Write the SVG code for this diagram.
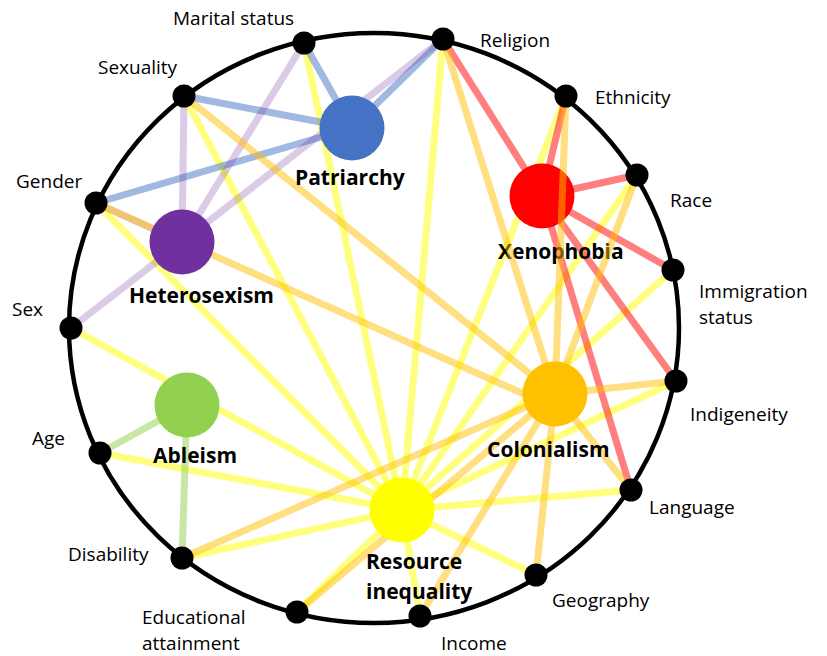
<svg xmlns="http://www.w3.org/2000/svg" width="827" height="656" viewBox="0 0 827 656">
<style>
  .e { fill: none; stroke-width: 7; stroke-linecap: butt; }
  .y { stroke: #FFFF00; stroke-opacity: 0.5; }
  .o { stroke: #FFC000; stroke-opacity: 0.5; }
  .r { stroke: #FF0000; stroke-opacity: 0.5; }
  .b { stroke: #4472C4; stroke-opacity: 0.5; }
  .p { stroke: #7030A0; stroke-opacity: 0.25; }
  .g { stroke: #92D050; stroke-opacity: 0.5; }
  .dot { fill: #000000; }
  .lbl { font-family: "Open Sans", "Liberation Sans", sans-serif; font-size: 19px; fill: #000000; }
  .hub { font-family: "Open Sans", "Liberation Sans", sans-serif; font-size: 21px; font-weight: bold; fill: #000000; }
</style>
<rect width="827" height="656" fill="#FFFFFF"/>
<ellipse id="ring" cx="374" cy="328" rx="305" ry="295" fill="none" stroke="#000000" stroke-width="4.5"/>

<g id="connectors-under">
  <!-- Resource inequality (yellow) -->
  <line class="e y" x1="304" y1="43" x2="402" y2="510"/>
  <line class="e y" x1="184" y1="96" x2="402" y2="510"/>
  <line class="e y" x1="96" y1="203" x2="402" y2="510"/>
  <line class="e y" x1="71" y1="328" x2="402" y2="510"/>
  <line class="e y" x1="100" y1="453" x2="402" y2="510"/>
  <line class="e y" x1="182" y1="558" x2="402" y2="510"/>
  <line class="e y" x1="297" y1="612" x2="402" y2="510"/>
  <line class="e y" x1="420" y1="616" x2="402" y2="510"/>
  <line class="e y" x1="536" y1="575" x2="402" y2="510"/>
  <line class="e y" x1="631" y1="490" x2="402" y2="510"/>
  <line class="e y" x1="676" y1="381" x2="402" y2="510"/>
  <line class="e y" x1="673" y1="270" x2="402" y2="510"/>
  <line class="e y" x1="637" y1="175" x2="402" y2="510"/>
  <line class="e y" x1="566" y1="96" x2="402" y2="510"/>
  <line class="e y" x1="443" y1="39" x2="402" y2="510"/>
  <!-- Patriarchy (blue) -->
  <line class="e b" x1="304" y1="43" x2="352" y2="128"/>
  <line class="e b" x1="184" y1="96" x2="352" y2="128"/>
  <line class="e b" x1="96" y1="203" x2="352" y2="128"/>
  <line class="e b" x1="443" y1="39" x2="352" y2="128"/>
  <!-- Heterosexism (purple) -->
  <line class="e p" x1="304" y1="43" x2="182" y2="242"/>
  <line class="e p" x1="184" y1="96" x2="182" y2="242"/>
  <line class="e p" x1="443" y1="39" x2="182" y2="242"/>
  <line class="e p" x1="96" y1="203" x2="182" y2="242"/>
  <line class="e p" x1="71" y1="328" x2="182" y2="242"/>
  <!-- Ableism (green) -->
  <line class="e g" x1="100" y1="453" x2="187" y2="405"/>
  <line class="e g" x1="182" y1="558" x2="187" y2="405"/>
  <!-- Xenophobia (red) -->
  <line class="e r" x1="443" y1="39" x2="542" y2="196"/>
  <line class="e r" x1="566" y1="96" x2="542" y2="196"/>
  <line class="e r" x1="637" y1="175" x2="542" y2="196"/>
  <line class="e r" x1="673" y1="270" x2="542" y2="196"/>
  <line class="e r" x1="676" y1="381" x2="542" y2="196"/>
  <line class="e r" x1="631" y1="490" x2="542" y2="196"/>
</g>

<g id="node-xenophobia">
  <circle cx="542" cy="196" r="32.5" fill="#FF0000"/>
  <text class="hub" x="498" y="259">Xenophobia</text>
</g>

<g id="connectors-over">
  <!-- Colonialism (orange) -->
  <line class="e o" x1="443" y1="39" x2="555" y2="394"/>
  <line class="e o" x1="566" y1="96" x2="555" y2="394"/>
  <line class="e o" x1="637" y1="175" x2="555" y2="394"/>
  <line class="e o" x1="676" y1="381" x2="555" y2="394"/>
  <line class="e o" x1="631" y1="490" x2="555" y2="394"/>
  <line class="e o" x1="536" y1="575" x2="555" y2="394"/>
  <line class="e o" x1="420" y1="616" x2="555" y2="394"/>
  <line class="e o" x1="297" y1="612" x2="555" y2="394"/>
  <line class="e o" x1="182" y1="558" x2="555" y2="394"/>
  <line class="e o" x1="96" y1="203" x2="553" y2="407"/>
  <line class="e o" x1="184" y1="96" x2="555" y2="394"/>
</g>

<g id="node-patriarchy">
  <circle cx="352" cy="128" r="32.5" fill="#4472C4"/>
  <text class="hub" x="295" y="185">Patriarchy</text>
</g>
<g id="node-heterosexism">
  <circle cx="182" cy="242" r="32.5" fill="#7030A0"/>
  <text class="hub" x="129" y="303">Heterosexism</text>
</g>
<g id="node-ableism">
  <circle cx="187" cy="405" r="32.5" fill="#92D050"/>
  <text class="hub" x="153" y="463">Ableism</text>
</g>
<g id="node-colonialism">
  <circle cx="555" cy="394" r="32.5" fill="#FFC000"/>
  <text class="hub" x="487" y="457">Colonialism</text>
</g>
<g id="node-resource-inequality">
  <circle cx="402" cy="510" r="32.5" fill="#FFFF00"/>
  <text class="hub" x="366" y="569">Resource</text>
  <text class="hub" x="366" y="599">inequality</text>
</g>

<g id="node-marital-status"><circle class="dot" cx="304" cy="43" r="11.5"/><text class="lbl" x="173" y="25">Marital status</text></g>
<g id="node-religion"><circle class="dot" cx="443" cy="39" r="11.5"/><text class="lbl" x="480" y="47">Religion</text></g>
<g id="node-ethnicity"><circle class="dot" cx="566" cy="96" r="11.5"/><text class="lbl" x="595" y="104">Ethnicity</text></g>
<g id="node-race"><circle class="dot" cx="637" cy="175" r="11.5"/><text class="lbl" x="670" y="207">Race</text></g>
<g id="node-immigration-status"><circle class="dot" cx="673" cy="270" r="11.5"/><text class="lbl" x="699" y="298">Immigration</text><text class="lbl" x="699" y="324">status</text></g>
<g id="node-indigeneity"><circle class="dot" cx="676" cy="381" r="11.5"/><text class="lbl" x="690" y="421">Indigeneity</text></g>
<g id="node-language"><circle class="dot" cx="631" cy="490" r="11.5"/><text class="lbl" x="649" y="514">Language</text></g>
<g id="node-geography"><circle class="dot" cx="536" cy="575" r="11.5"/><text class="lbl" x="552" y="607">Geography</text></g>
<g id="node-income"><circle class="dot" cx="420" cy="616" r="11.5"/><text class="lbl" x="441" y="650">Income</text></g>
<g id="node-educational-attainment"><circle class="dot" cx="297" cy="612" r="11.5"/><text class="lbl" x="142" y="624">Educational</text><text class="lbl" x="142" y="650">attainment</text></g>
<g id="node-disability"><circle class="dot" cx="182" cy="558" r="11.5"/><text class="lbl" x="68" y="561">Disability</text></g>
<g id="node-age"><circle class="dot" cx="100" cy="453" r="11.5"/><text class="lbl" x="32" y="445">Age</text></g>
<g id="node-sex"><circle class="dot" cx="71" cy="328" r="11.5"/><text class="lbl" x="12" y="316">Sex</text></g>
<g id="node-gender"><circle class="dot" cx="96" cy="203" r="11.5"/><text class="lbl" x="16" y="188">Gender</text></g>
<g id="node-sexuality"><circle class="dot" cx="184" cy="96" r="11.5"/><text class="lbl" x="98" y="74">Sexuality</text></g>
</svg>
